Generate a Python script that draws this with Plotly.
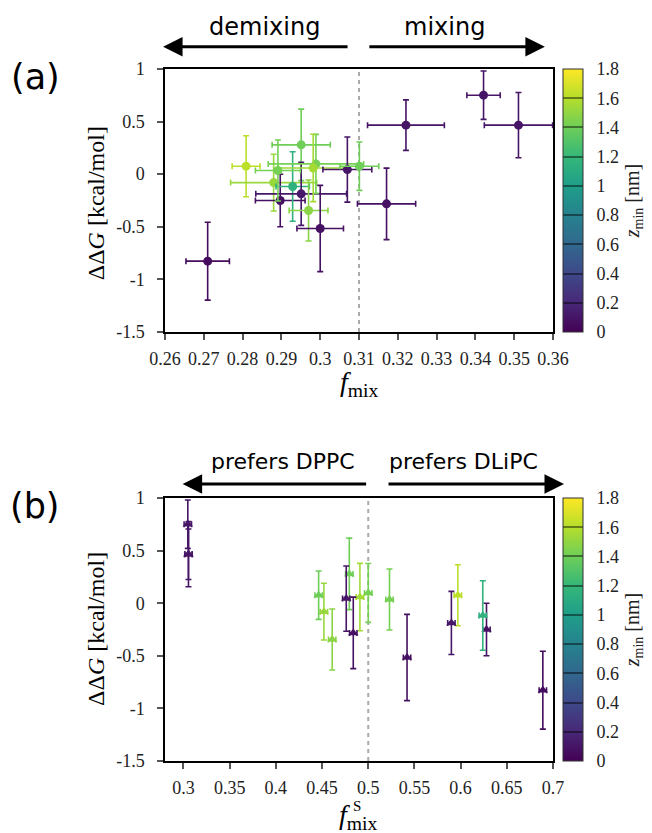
import plotly.graph_objects as go
from plotly.colors import sample_colorscale

# ---------------- data ----------------
f_mix = [0.2710, 0.2809, 0.2880, 0.2897, 0.2929, 0.2951, 0.2951, 0.2970, 0.2989,
         0.2982, 0.3000, 0.3070, 0.3101, 0.3221, 0.3421, 0.3511, 0.3171, 0.2891]
f_mix_err = [0.0056, 0.0036, 0.0111, 0.0064, 0.0043, 0.0075, 0.0117, 0.0050, 0.0123,
             0.0090, 0.0060, 0.0063, 0.0050, 0.0099, 0.0043, 0.0088, 0.0075, 0.0058]
f_mix_s = [0.689, 0.597, 0.452, 0.628, 0.624, 0.4795, 0.590, 0.461, 0.500,
           0.491, 0.542, 0.4762, 0.4463, 0.3054, 0.3047, 0.3054, 0.4838, 0.523]
f_mix_s_err = [0.004, 0.004, 0.004, 0.004, 0.004, 0.004, 0.004, 0.004, 0.004,
               0.004, 0.004, 0.004, 0.004, 0.004, 0.004, 0.004, 0.004, 0.004]
ddg = [-0.827, 0.076, -0.080, -0.250, -0.117, 0.279, -0.187, -0.345, 0.098,
       0.059, -0.516, 0.044, 0.076, 0.466, 0.751, 0.466, -0.282, 0.035]
ddg_err = [0.37, 0.29, 0.27, 0.25, 0.33, 0.34, 0.30, 0.29, 0.28,
           0.32, 0.41, 0.31, 0.23, 0.24, 0.23, 0.31, 0.34, 0.29]
z_min = [0.05, 1.62, 1.52, 0.08, 1.15, 1.40, 0.12, 1.48, 1.42,
         1.55, 0.08, 0.10, 1.40, 0.10, 0.10, 0.10, 0.08, 1.42]

xa_ticks = [0.26, 0.27, 0.28, 0.29, 0.30, 0.31, 0.32, 0.33, 0.34, 0.35, 0.36]
xa_labels = ["0.26", "0.27", "0.28", "0.29", "0.3", "0.31", "0.32", "0.33", "0.34", "0.35", "0.36"]
xb_ticks = [0.30, 0.35, 0.40, 0.45, 0.50, 0.55, 0.60, 0.65, 0.70]
xb_labels = ["0.3", "0.35", "0.4", "0.45", "0.5", "0.55", "0.6", "0.65", "0.7"]
y_ticks = [1, 0.5, 0, -0.5, -1, -1.5]
y_labels = ["1", "0.5", "0", "-0.5", "-1", "-1.5"]
cb_ticks = [0, 0.2, 0.4, 0.6, 0.8, 1.0, 1.2, 1.4, 1.6, 1.8]
cb_labels = ["0", "0.2", "0.4", "0.6", "0.8", "1", "1.2", "1.4", "1.6", "1.8"]
z_range = [0, 1.8]

SERIF = "Liberation Serif"
SANS = "DejaVu Sans"

colors = sample_colorscale("Viridis", [z / z_range[1] for z in z_min])

fig = go.Figure()

for i in range(len(f_mix)):
    c = colors[i]
    fig.add_trace(go.Scatter(
        x=[f_mix[i]], y=[ddg[i]], mode="markers",
        marker=dict(color=c, size=9, symbol="circle"),
        error_x=dict(type="data", array=[f_mix_err[i]], color=c, thickness=1.6, width=3),
        error_y=dict(type="data", array=[ddg_err[i]], color=c, thickness=1.6, width=3),
        xaxis="x", yaxis="y", showlegend=False, hoverinfo="skip"))
    fig.add_trace(go.Scatter(
        x=[f_mix_s[i]], y=[ddg[i]], mode="markers",
        marker=dict(color=c, size=9, symbol="triangle-up"),
        error_x=dict(type="data", array=[f_mix_s_err[i]], color=c, thickness=1.6, width=3),
        error_y=dict(type="data", array=[ddg_err[i]], color=c, thickness=1.6, width=3),
        xaxis="x2", yaxis="y2", showlegend=False, hoverinfo="skip"))

CB_X = 1.0258


def cbar(y, yanchor):
    return dict(
        x=CB_X, xanchor="left", xpad=0, y=y, yanchor=yanchor, ypad=0,
        len=0.38, lenmode="fraction", thickness=20, thicknessmode="pixels",
        outlinewidth=1, outlinecolor="#333",
        tickvals=cb_ticks, ticktext=["\u00a0\u00a0" + s for s in cb_labels],
        ticks="inside", ticklen=20, tickwidth=1.5, tickcolor="rgba(0,0,0,0.45)",
        tickfont=dict(family=SERIF, size=18, color="#222"),
        title=dict(text="<i>z</i><sub>min</sub> [nm]", side="right",
                   font=dict(family=SERIF, size=20, color="#222")))


fig.add_trace(go.Scatter(
    x=[None], y=[None], mode="markers",
    marker=dict(color=[0], colorscale="Viridis", cmin=z_range[0], cmax=z_range[1],
                showscale=True, colorbar=cbar(1.0, "top")),
    xaxis="x", yaxis="y", showlegend=False, hoverinfo="skip"))
fig.add_trace(go.Scatter(
    x=[None], y=[None], mode="markers",
    marker=dict(color=[0], colorscale="Viridis", cmin=z_range[0], cmax=z_range[1],
                showscale=True, colorbar=cbar(0.0, "bottom")),
    xaxis="x2", yaxis="y2", showlegend=False, hoverinfo="skip"))

axis_common = dict(showline=True, linecolor="black", linewidth=1.5, mirror=True,
                   ticks="outside", ticklen=6, tickwidth=1.5, tickcolor="#555",
                   showgrid=False, zeroline=False,
                   tickfont=dict(family=SERIF, size=18, color="#222"))
xcommon = dict(axis_common, ticklabelstandoff=4)
ycommon = dict(axis_common, ticklabelstandoff=9)

# page body adds an 8px offset; the figure is sized to fit the window
fig.update_layout(
    width=644, height=825,
    margin=dict(l=157, r=99, t=61, b=72, autoexpand=False),
    paper_bgcolor="white", plot_bgcolor="white",
    xaxis=dict(domain=[0, 1], anchor="y", range=[0.26, 0.36],
               tickvals=xa_ticks, ticktext=xa_labels, **xcommon),
    yaxis=dict(domain=[0.62, 1], anchor="x", range=[-1.5, 1],
               tickvals=y_ticks, ticktext=y_labels, **ycommon),
    xaxis2=dict(domain=[0, 1], anchor="y2", range=[0.28, 0.70],
                tickvals=xb_ticks, ticktext=xb_labels, **xcommon),
    yaxis2=dict(domain=[0, 0.38], anchor="x2", range=[-1.5, 1],
                tickvals=y_ticks, ticktext=y_labels, **ycommon),
)

# dashed reference lines
fig.add_shape(type="line", xref="x", yref="y domain", x0=0.31, x1=0.31, y0=0, y1=1,
              line=dict(color="#aaaaaa", width=2, dash="4px,4px"), layer="below")
fig.add_shape(type="line", xref="x2", yref="y2 domain", x0=0.5, x1=0.5, y0=0, y1=1,
              line=dict(color="#aaaaaa", width=2, dash="4px,4px"), layer="below")

ann = []


def txt(text, x, y, size, family=SANS, angle=0):
    return dict(text=text, xref="paper", yref="paper", x=x, y=y, xanchor="center",
                yanchor="middle", showarrow=False, textangle=angle,
                font=dict(family=family, size=size, color="black"))


# panel letters
ann.append(txt("(a)", -0.335, 0.9884, 35))
ann.append(txt("(b)", -0.335, 0.368, 35))
# top texts
ann.append(txt("demixing", 0.2577, 1.0607, 24))
ann.append(txt("mixing", 0.7216, 1.0607, 24))
ann.append(txt("prefers DPPC", 0.304, 0.4335, 22))
ann.append(txt("prefers DLiPC", 0.770, 0.4335, 22))
# arrows
arrow_style = dict(showarrow=True, arrowhead=2, arrowsize=1.3, arrowwidth=3,
                   arrowcolor="black", text="", axref="pixel", ayref="pixel", ay=0)
ann.append(dict(xref="paper", yref="paper", x=-0.005, y=1.0322, ax=186, **arrow_style))
ann.append(dict(xref="paper", yref="paper", x=0.979, y=1.0322, ax=-177, **arrow_style))
ann.append(dict(xref="paper", yref="paper", x=0.0454, y=0.4003, ax=185, **arrow_style))
ann.append(dict(xref="paper", yref="paper", x=1.0284, y=0.4003, ax=-177, **arrow_style))
# axis titles
ann.append(txt("ΔΔ<i>G</i> [kcal/mol]", -0.1778, 0.806, 24, SERIF, -90))
ann.append(txt("ΔΔ<i>G</i> [kcal/mol]", -0.1778, 0.1908, 24, SERIF, -90))
ann.append(txt("<i>f</i><sub>mix</sub>", 0.499, 0.546, 28, SERIF))
ann.append(txt("<i>f</i><sub>mix</sub>", 0.497, -0.0795, 28, SERIF))
ann.append(txt("S", 0.494, -0.0655, 15, SERIF))
fig.update_layout(annotations=ann)

fig.write_html("out.html")
